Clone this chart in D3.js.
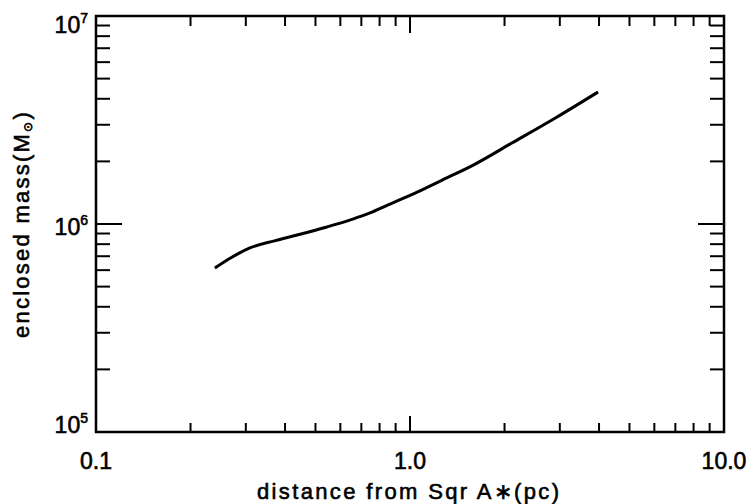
<!DOCTYPE html>
<html>
<head>
<meta charset="utf-8">
<script src="https://cdn.jsdelivr.net/npm/d3@7"></script>
<style>
  html, body { margin: 0; padding: 0; background: #fff; }
  svg text { font-family: "Liberation Sans", Arial, sans-serif; fill: #000; stroke: #000; stroke-width: 0.6px; }
</style>
</head>
<body>
<svg id="chart" width="751" height="504"></svg>
<script>
/* ── Data ─────────────────────────────────────────── */
const distancePc   = [0.239, 0.27, 0.309, 0.37, 0.437, 0.544, 0.65, 0.746, 0.845, 1.05, 1.27, 1.59, 2.11, 2.94, 3.97];
const enclosedMass = [6.14e5, 6.9e5, 7.67e5, 8.3e5, 8.85e5, 9.68e5, 1.05e6, 1.13e6, 1.23e6, 1.42e6, 1.63e6, 1.92e6, 2.45e6, 3.27e6, 4.31e6];

const xTickLabels = ["0.1", "1.0", "10.0"];
const xTickValues = [0.1, 1, 10];
const yTickExps   = [5, 6, 7];

/* ── Layout ───────────────────────────────────────── */
const svg = d3.select("#chart");
const margin = { left: 96, right: 27, top: 16, bottom: 72 };
const W = 751, H = 504;

const x = d3.scaleLog().domain([0.1, 10]).range([margin.left, W - margin.right]);
const y = d3.scaleLog().domain([1e5, 1e7]).range([H - margin.bottom, margin.top]);

const x0 = x.range()[0], x1 = x.range()[1];
const y0 = y.range()[0], y1 = y.range()[1];

/* minor ticks: 2..9 in each decade */
const minorX = [];
[0.1, 1].forEach(d => d3.range(2, 10).forEach(k => minorX.push(d * k)));
const minorY = [];
[1e5, 1e6].forEach(d => d3.range(2, 10).forEach(k => minorY.push(d * k)));

const ink = svg.append("g").attr("stroke", "#000").attr("stroke-linecap", "square");

/* ticks, inward on all four sides */
const tick = (xa, ya, xb, yb, w) =>
    ink.append("line").attr("x1", xa).attr("y1", ya).attr("x2", xb).attr("y2", yb).attr("stroke-width", w);

minorX.forEach(v => {
    tick(x(v), y0, x(v), y0 - 8, 2);
    tick(x(v), y1, x(v), y1 + 9, 2);
});
xTickValues.forEach(v => {
    tick(x(v), y0, x(v), y0 - 15, 2);
    tick(x(v), y1, x(v), y1 + 16, 2);
});
minorY.forEach(v => {
    tick(x0, y(v), x0 + 13, y(v), 2);
    tick(x1, y(v), x1 - 13, y(v), 2);
});
yTickExps.forEach(e => {
    tick(x0, y(10 ** e), x0 + 25, y(10 ** e), 2);
    tick(x1, y(10 ** e), x1 - 25, y(10 ** e), 2);
});

/* frame */
ink.append("rect")
    .attr("x", x0).attr("y", y1)
    .attr("width", x1 - x0).attr("height", y0 - y1)
    .attr("fill", "none").attr("stroke-width", 2.5);

/* curve */
const line = d3.line().curve(d3.curveMonotoneX).x(d => x(d[0])).y(d => y(d[1]));
svg.append("path")
    .datum(distancePc.map((d, i) => [d, enclosedMass[i]]))
    .attr("d", line)
    .attr("fill", "none")
    .attr("stroke", "#000")
    .attr("stroke-width", 3)
    .attr("stroke-linejoin", "round");

/* x tick labels */
svg.append("g").selectAll("text")
    .data(xTickValues).join("text")
    .attr("x", d => x(d))
    .attr("y", y0 + 37)
    .attr("text-anchor", "middle")
    .attr("font-size", 23)
    .text((d, i) => xTickLabels[i]);

/* y tick labels: 10^n — bottom one sits on the axis, top one hangs from it */
const yBaseShift = [1, 11, 17];
const yl = svg.append("g").selectAll("text")
    .data(yTickExps).join("text")
    .attr("x", x0 - 8)
    .attr("y", (d, i) => y(10 ** d) + yBaseShift[i])
    .attr("text-anchor", "end")
    .attr("font-size", 23);
yl.append("tspan").text("10");
yl.append("tspan").attr("dy", -10).attr("font-size", 14).text(d => d);

/* axis titles */
svg.append("text")
    .attr("x", 408).attr("y", 499)
    .attr("text-anchor", "middle")
    .attr("font-size", 22)
    .attr("textLength", 302).attr("lengthAdjust", "spacing")
    .text("distance from Sqr A\u2217(pc)");

const yt = svg.append("text")
    .attr("transform", "translate(29,224) rotate(-90)")
    .attr("text-anchor", "middle")
    .attr("font-size", 22);
yt.append("tspan").text("enclosed mass(M");
yt.append("tspan").attr("font-size", 12).attr("dy", 3).text("\u2299");
yt.append("tspan").attr("dy", -3).text(")");

/* stretch the y title to the width it has in the figure */
const ytLen = yt.node().getComputedTextLength();
const ytChars = yt.text().length;
yt.style("letter-spacing", `${(228 - ytLen) / ytChars}px`);
</script>
</body>
</html>
